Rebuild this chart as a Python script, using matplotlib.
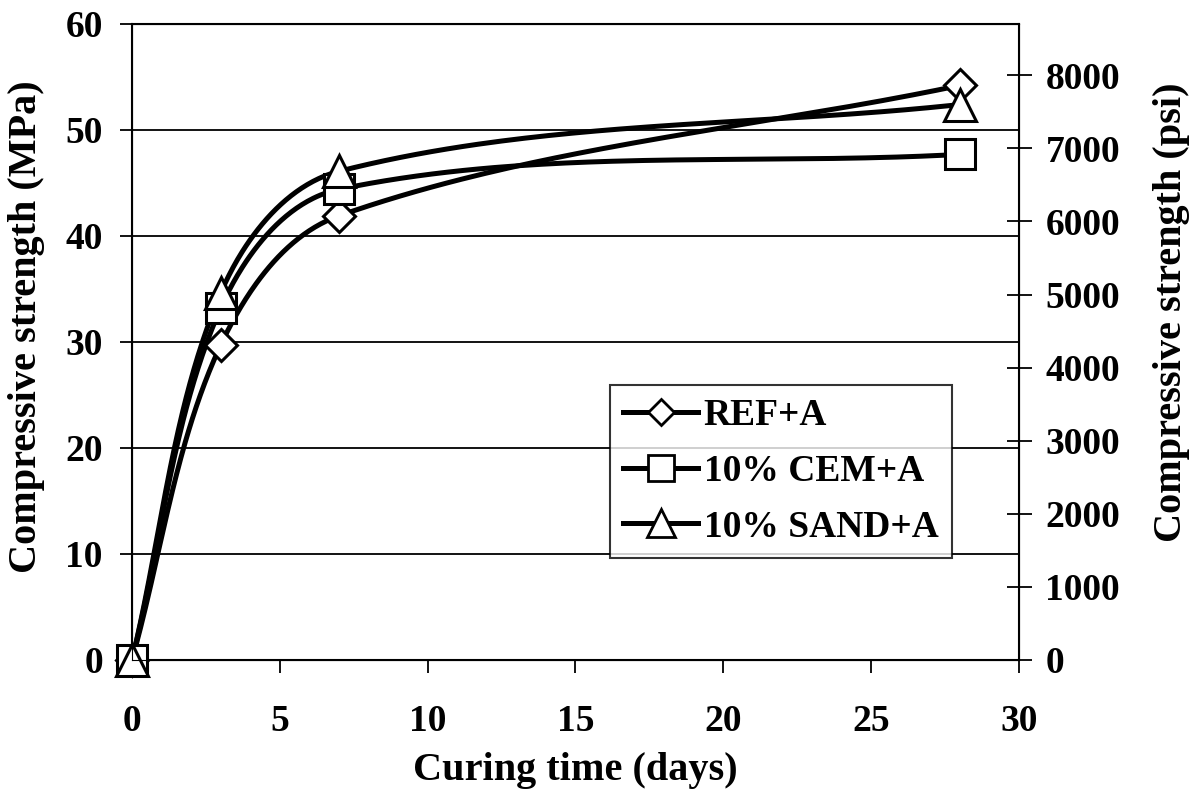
import numpy as np
import matplotlib.pyplot as plt
from matplotlib.lines import Line2D

plt.rcParams['font.family'] = ['Liberation Serif', 'DejaVu Serif']
plt.rcParams['font.weight'] = 'bold'

# curing time (days) and compressive strength (MPa)
days = [0, 3, 7, 28]
ref_a = [0, 29.7, 41.9, 54.2]
cem_a = [0, 33.2, 44.4, 47.7]
sand_a = [0, 34.6, 46.1, 52.4]
labels = ['REF+A', '10% CEM+A', '10% SAND+A']
markers = ['D', 's', '^']
msizes = [16, 22, 23]

MPA_TO_PSI = 145.038
XMAX, YMAX = 30, 60


def smooth(x, y, n=80):
    # smoothed line like Excel: bezier segments, tangents taken in screen space
    sx, sy = 887 / XMAX, 636 / YMAX
    p = np.column_stack([np.array(x) * sx, np.array(y) * sy]).astype(float)
    k = len(p)
    tang = []
    for i in range(k):
        a = p[i - 1] if i > 0 else p[i]
        b = p[i + 1] if i + 1 < k else p[i]
        d = b - a
        tang.append(d / np.linalg.norm(d))
    out = []
    for i in range(k - 1):
        p1, p2 = p[i], p[i + 1]
        L = np.linalg.norm(p2 - p1)
        c1 = p1 + tang[i] * L / 3
        c2 = p2 - tang[i + 1] * L / 3
        t = np.linspace(0, 1, n)[:, None]
        seg = (1 - t)**3 * p1 + 3 * (1 - t)**2 * t * c1 + 3 * (1 - t) * t**2 * c2 + t**3 * p2
        out.append(seg)
    out = np.vstack(out)
    return out[:, 0] / sx, out[:, 1] / sy


fig = plt.figure(figsize=(11.92, 7.94), dpi=100)
ax = fig.add_axes([0.1107, 0.1688, 0.7442, 0.8010])

series = [ref_a, cem_a, sand_a]
for s in series:
    xs, ys = smooth(days, s)
    ax.plot(xs, ys, color='black', lw=3.6, solid_capstyle='round', zorder=3)
for s, m, ms in zip(series, markers, msizes):
    ax.plot(days, s, linestyle='none', marker=m, markersize=ms, markerfacecolor='white',
            markeredgecolor='black', markeredgewidth=2.2, zorder=4, clip_on=False)

ax.set_xlim(0, XMAX)
ax.set_ylim(0, YMAX)
ax.set_xticks(np.arange(0, 31, 5))
ax.set_yticks(np.arange(0, 61, 10))
for yv in range(10, 61, 10):
    ax.axhline(yv, color='black', lw=1.3, zorder=1)
ax.tick_params(axis='y', direction='out', length=9, width=1.3, labelsize=27, pad=12)
ax.tick_params(axis='x', direction='out', length=9, width=1.3, labelsize=27, pad=23)
for sp in ax.spines.values():
    sp.set_linewidth(1.5)
ax.set_xlabel('Curing time (days)', fontsize=29, fontweight='bold', labelpad=9)
ax.set_ylabel('Compressive strength (MPa)', fontsize=29, fontweight='bold')
ax.yaxis.set_label_coords(-0.098, 0.524)

ax2 = ax.twinx()
ax2.set_ylim(0, YMAX * MPA_TO_PSI)
ax2.set_yticks(np.arange(0, 8001, 1000))
ax2.tick_params(axis='y', direction='inout', length=18, width=1.3, labelsize=27, pad=10)
ax2.set_ylabel('Compressive strength (psi)', fontsize=29, fontweight='bold')
ax2.yaxis.set_label_coords(1.151, 0.546)

handles = [Line2D([], [], color='black', lw=3.6, marker=m, markersize=ms * 0.85,
                  markerfacecolor='white', markeredgecolor='black', markeredgewidth=2)
           for m, ms in zip(markers, msizes)]
leg = ax.legend(handles, labels, loc='upper left', bbox_to_anchor=(0.539, 0.432),
                fontsize=27, frameon=True, fancybox=False, edgecolor='black',
                handlelength=2.0, handletextpad=0.15, labelspacing=0.55, borderpad=0.35,
                borderaxespad=0)
leg.get_frame().set_linewidth(1.5)
leg.set_zorder(5)

fig.savefig('out.png', dpi=100)
